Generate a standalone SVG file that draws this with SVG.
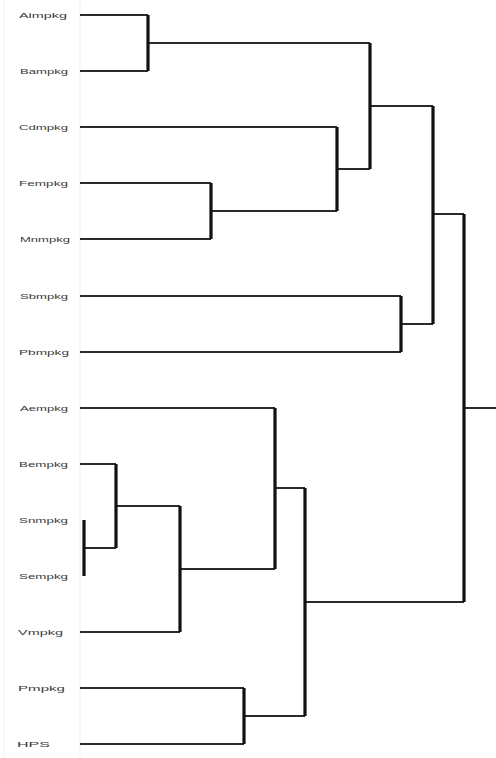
<svg xmlns="http://www.w3.org/2000/svg" width="496" height="758" viewBox="0 0 496 758">
<style>
.lbl{font-family:"Liberation Sans",Arial,sans-serif;font-size:7px;fill:#3a3a3a}
.h{stroke:#2a2a2a;stroke-width:1.8;fill:none}
.v{stroke:#111;stroke-width:3.2;fill:none}
.ax{stroke:#f0f0f0;stroke-width:1}
</style>
<rect width="496" height="758" fill="#fff"/>
<line class="ax" x1="4" y1="0" x2="4" y2="758"/>
<line class="ax" x1="80" y1="0" x2="80" y2="758"/>
<g id="leaves">
<g id="n1"><text class="lbl" x="19" y="18" textLength="48" lengthAdjust="spacingAndGlyphs">Aimpkg</text></g>
<g id="n2"><text class="lbl" x="20" y="74" textLength="48" lengthAdjust="spacingAndGlyphs">Bampkg</text></g>
<g id="n3"><text class="lbl" x="19" y="130" textLength="49" lengthAdjust="spacingAndGlyphs">Cdmpkg</text></g>
<g id="n4"><text class="lbl" x="19" y="186" textLength="49" lengthAdjust="spacingAndGlyphs">Fempkg</text></g>
<g id="n5"><text class="lbl" x="20" y="242" textLength="50" lengthAdjust="spacingAndGlyphs">Mnmpkg</text></g>
<g id="n6"><text class="lbl" x="20" y="299" textLength="48" lengthAdjust="spacingAndGlyphs">Sbmpkg</text></g>
<g id="n7"><text class="lbl" x="19" y="355" textLength="50" lengthAdjust="spacingAndGlyphs">Pbmpkg</text></g>
<g id="n8"><text class="lbl" x="20" y="411" textLength="48" lengthAdjust="spacingAndGlyphs">Aempkg</text></g>
<g id="n9"><text class="lbl" x="19" y="467" textLength="49" lengthAdjust="spacingAndGlyphs">Bempkg</text></g>
<g id="n10"><text class="lbl" x="19" y="523" textLength="49" lengthAdjust="spacingAndGlyphs">Snmpkg</text></g>
<g id="n11"><text class="lbl" x="19" y="579" textLength="49" lengthAdjust="spacingAndGlyphs">Sempkg</text></g>
<g id="n12"><text class="lbl" x="18" y="635" textLength="45" lengthAdjust="spacingAndGlyphs">Vmpkg</text></g>
<g id="n13"><text class="lbl" x="18" y="691" textLength="47" lengthAdjust="spacingAndGlyphs">Pmpkg</text></g>
<g id="n14"><text class="lbl" x="17" y="747" textLength="33" lengthAdjust="spacingAndGlyphs">HPS</text></g>
</g>
<g id="connectors">
<path class="h" d="M80 15H148M80 71H148M148 43H370M80 127H337M80 183H211M80 239H211M211 211H337M337 169H370M370 106H433M80 296H401M80 352H401M401 324H433M433 214H464M464 408H496"/>
<path class="h" d="M80 408H275M80 464H116M84 548H116M116 506H180M80 632H180M180 569H275M275 488H305M80 688H244M80 744H244M244 716H305M305 602H464"/>
<path class="v" d="M148 15V71M211 183V239M337 127V211M370 43V169M401 296V352M433 106V324M464 214V602"/>
<path class="v" d="M84 520V576M116 464V548M180 506V632M275 408V569M244 688V744M305 488V716"/>
</g>
</svg>
